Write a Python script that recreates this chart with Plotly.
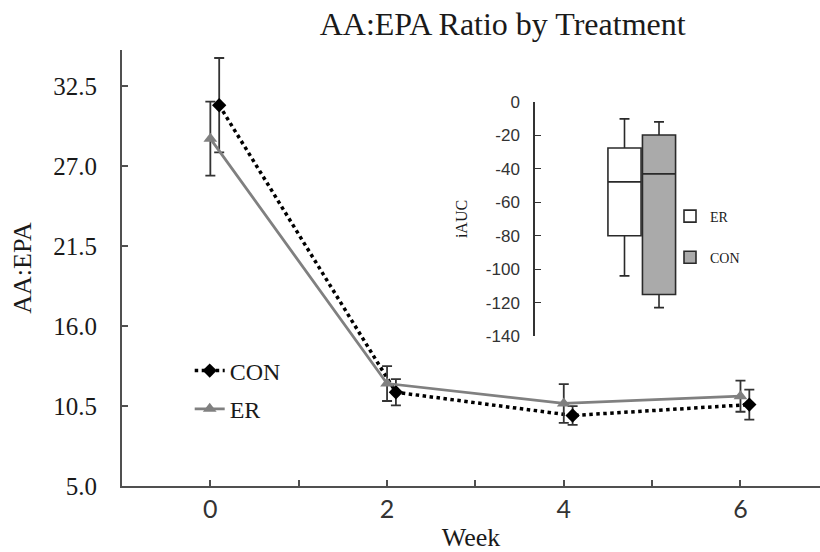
import plotly.graph_objects as go

# ---- data ----
weeks = [0, 2, 4, 6]
con_mean = [31.2, 11.45, 9.85, 10.6]
con_sd = [3.25, 0.9, 0.65, 1.03]
er_mean = [28.9, 12.05, 10.68, 11.18]
er_sd = [2.55, 1.2, 1.33, 1.07]
con_offset = 0.1

x_tickvals = [0, 1, 2, 3, 4, 5, 6]
x_ticktext = ["0", "", "2", "", "4", "", "6"]
y_tickvals = [5.0, 10.5, 16.0, 21.5, 27.0, 32.5]

box_groups = ["ER", "CON"]
box_pos = [1, 2]
box_lower = [-104, -123]
box_q1 = [-80, -115.2]
box_median = [-47.8, -43]
box_q3 = [-27.5, -19.7]
box_upper = [-10.1, -11.9]
box_fill = ["#ffffff", "#aaaaaa"]
inset_tickvals = [0, -20, -40, -60, -80, -100, -120, -140]
inset_ticktext = ["0", "-20", "-40", "-60", "-80", "-100", "-120", "-140"]

serif = "Liberation Serif"
sans = "Lato"
axis_col = "#505050"
txt = "#1a1a1a"

fig = go.Figure()

fig.add_trace(go.Scatter(
    x=[w + con_offset for w in weeks], y=con_mean, name="CON", mode="lines+markers",
    line=dict(color="black", width=3.5, dash="dot"),
    marker=dict(symbol="diamond", size=11, color="black"),
    error_y=dict(type="data", array=con_sd, color="#333333", thickness=1.8, width=5),
    legendgroup="con", legend="legend",
))
fig.add_trace(go.Scatter(
    x=weeks, y=er_mean, name="ER", mode="lines+markers",
    line=dict(color="#808080", width=2.8),
    marker=dict(symbol="triangle-up", size=12, color="#808080"),
    error_y=dict(type="data", array=er_sd, color="#333333", thickness=1.8, width=5),
    legendgroup="er", legend="legend",
))

for g, p, lo, q1, md, q3, up, fc in zip(box_groups, box_pos, box_lower, box_q1,
                                         box_median, box_q3, box_upper, box_fill):
    fig.add_trace(go.Box(
        x=[p], lowerfence=[lo], q1=[q1], median=[md], q3=[q3], upperfence=[up],
        name=g, width=0.96, whiskerwidth=0.3, fillcolor=fc,
        line=dict(color="#2a2a2a", width=1.6),
        xaxis="x2", yaxis="y2", legend="legend2", legendgroup="box" + g,
    ))

fig.update_layout(
    width=820, height=552,
    margin=dict(l=122, r=0, t=50, b=66, autoexpand=False),
    paper_bgcolor="white", plot_bgcolor="white",
    title=dict(text="AA:EPA Ratio by Treatment", x=0.613, xref="container",
               y=1 - 24 / 552, yref="container", xanchor="center", yanchor="middle",
               font=dict(family=serif, size=32, color=txt)),
    xaxis=dict(range=[-1, 6.9], tickvals=x_tickvals, ticktext=x_ticktext,
               showline=True, linecolor=axis_col, linewidth=2,
               ticks="inside", ticklen=6, tickcolor=axis_col, tickwidth=1.5,
               showgrid=False, zeroline=False, automargin=False,
               ticklabelstandoff=0,
               tickfont=dict(family=sans, size=25, color="#333333"),
               title=dict(text="Week", font=dict(family=serif, size=26, color=txt), standoff=6)),
    yaxis=dict(range=[5, 35], tickvals=y_tickvals, tickformat=".1f",
               showline=True, linecolor=axis_col, linewidth=2,
               ticks="inside", ticklen=6, tickcolor=axis_col, tickwidth=1.5,
               showgrid=False, zeroline=False, automargin=False,
               ticklabelstandoff=18,
               tickfont=dict(family=serif, size=25, color=txt),
               title=dict(text="AA:EPA", font=dict(family=serif, size=26, color=txt), standoff=14)),
    xaxis2=dict(domain=[(535 - 122) / 698, (700 - 122) / 698], range=[-1.594, 3.188],
                visible=False, anchor="y2"),
    yaxis2=dict(domain=[(486 - 336) / 436, (486 - 102) / 436], range=[-140, 0],
                tickvals=inset_tickvals, ticktext=inset_ticktext,
                anchor="x2", showline=True, linecolor="#333333", linewidth=1.5,
                ticks="inside", ticklen=6, tickcolor="#333333",
                showgrid=False, zeroline=False, automargin=False,
                ticklabelstandoff=10,
                tickfont=dict(family="Liberation Sans", size=17, color="#333333"),
                title=dict(text="iAUC", font=dict(family=serif, size=16, color=txt), standoff=14)),
    legend=dict(x=0.097, y=(486 - 390) / 436, xanchor="left", yanchor="middle",
                bgcolor="rgba(0,0,0,0)", tracegroupgap=4,
                font=dict(family=serif, size=24, color=txt)),
    legend2=dict(x=(670 - 122) / 698, y=(486 - 237) / 436, xanchor="left", yanchor="middle",
                 bgcolor="rgba(0,0,0,0)", tracegroupgap=20,
                 font=dict(family=serif, size=14, color=txt)),
)

fig.write_html("out.html", config={"displayModeBar": False},
               post_script="document.body.style.margin='0';")
